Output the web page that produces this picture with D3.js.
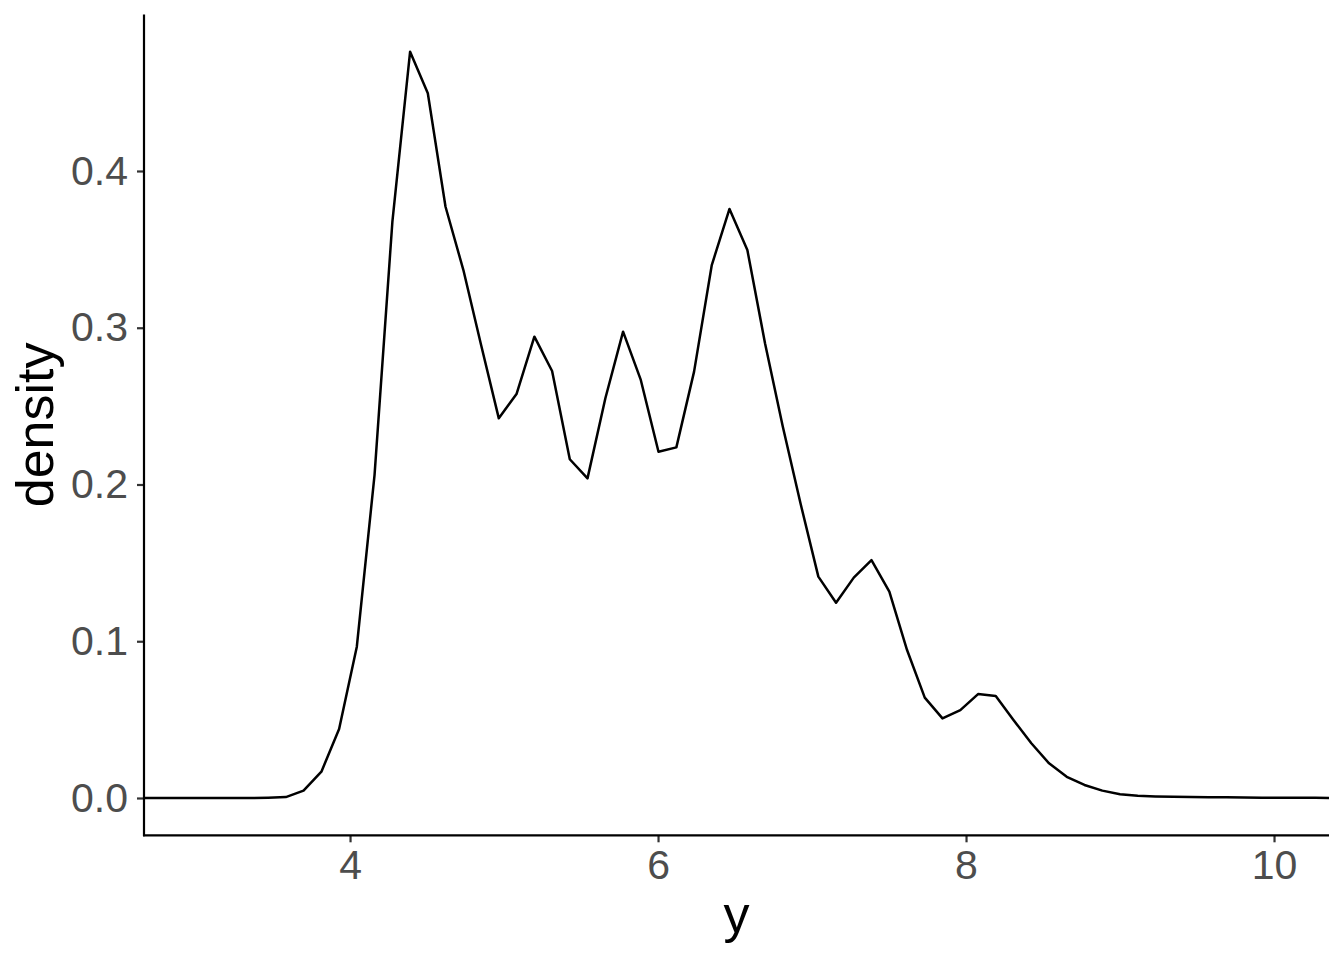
<!DOCTYPE html>
<html>
<head>
<meta charset="utf-8">
<script src="https://cdn.jsdelivr.net/npm/d3@7"></script>
<style>
  body { margin: 0; background: #fff; }
  svg { display: block; font-family: "Liberation Sans", Arial, Helvetica, sans-serif; }
</style>
</head>
<body>
<svg id="chart" width="1344" height="960"></svg>
<script>
// density estimate
const xs = [2.661, 2.776, 2.892, 3.007, 3.122, 3.237, 3.353, 3.468, 3.583, 3.698,
  3.814, 3.929, 4.044, 4.159, 4.275, 4.390, 4.505, 4.620, 4.736, 4.851,
  4.966, 5.081, 5.197, 5.312, 5.427, 5.542, 5.658, 5.773, 5.888, 6.003,
  6.119, 6.234, 6.349, 6.464, 6.580, 6.695, 6.810, 6.925, 7.041, 7.156,
  7.271, 7.386, 7.502, 7.617, 7.732, 7.847, 7.963, 8.078, 8.193, 8.308,
  8.424, 8.539, 8.654, 8.769, 8.885, 9.000, 9.115, 9.230, 9.346, 9.461,
  9.576, 9.691, 9.807, 9.922, 10.037, 10.152, 10.268, 10.383];
const densities = [0, 0, 0, 0, 0, 0, 0, 0.0002, 0.0006, 0.0047,
  0.0168, 0.0440, 0.0965, 0.206, 0.3677, 0.4761, 0.4496, 0.3772, 0.3368, 0.289,
  0.2422, 0.2577, 0.2943, 0.2724, 0.2161, 0.2039, 0.2550, 0.2975, 0.2667, 0.2209,
  0.2237, 0.2720, 0.3400, 0.3758, 0.3496, 0.290, 0.237, 0.188, 0.1412, 0.1246,
  0.1406, 0.1518, 0.1316, 0.0944, 0.0640, 0.0508, 0.0561, 0.0663, 0.0651, 0.0498,
  0.0349, 0.0221, 0.0135, 0.0083, 0.0047, 0.0024, 0.0014, 0.0010, 0.0008, 0.0006,
  0.0005, 0.0004, 0.0003, 0.0002, 0.0002, 0.0001, 0.0001, 0];
const xTicks = [4, 6, 8, 10];
const yTicks = [0, 0.1, 0.2, 0.3, 0.4];

const svg = d3.select('#chart');
const panelLeft = 144;
const panelRight = 1329;
const panelTop = 14.4;
const panelBottom = 835.3;

const x = d3.scaleLinear().domain([2.662, 10.357]).range([panelLeft, panelRight]);
const y = d3.scaleLinear().domain([-0.0238, 0.4999]).range([panelBottom, panelTop]);

svg.append('clipPath').attr('id', 'panel-clip')
  .append('rect')
  .attr('x', panelLeft).attr('y', panelTop)
  .attr('width', panelRight - panelLeft).attr('height', panelBottom - panelTop);

const points = xs.map((v, i) => [v, densities[i]]);
const line = d3.line().x((d) => x(d[0])).y((d) => y(d[1]));

svg.append('path')
  .datum(points)
  .attr('clip-path', 'url(#panel-clip)')
  .attr('fill', 'none')
  .attr('stroke', '#000')
  .attr('stroke-width', 2.5)
  .attr('stroke-linejoin', 'round')
  .attr('d', line);

// axes, theme_classic style
function styleAxis(g) {
  g.select('.domain').remove();
  g.selectAll('.tick line').attr('stroke', '#333333').attr('stroke-width', 2.2);
  g.selectAll('.tick text')
    .attr('fill', '#4D4D4D')
    .attr('font-size', 41)
    .attr('font-family', '"Liberation Sans", Arial, Helvetica, sans-serif');
}

const xAxis = svg.append('g')
  .attr('transform', `translate(0,${panelBottom})`)
  .call(d3.axisBottom(x).tickValues(xTicks).tickSize(7).tickPadding(8)
    .tickFormat(d3.format('d')));
styleAxis(xAxis);

const yAxis = svg.append('g')
  .attr('transform', `translate(${panelLeft},0)`)
  .call(d3.axisLeft(y).tickValues(yTicks).tickSize(7).tickPadding(9)
    .tickFormat(d3.format('.1f')));
styleAxis(yAxis);

svg.append('line')
  .attr('x1', panelLeft - 1).attr('x2', panelRight)
  .attr('y1', panelBottom).attr('y2', panelBottom)
  .attr('stroke', '#000').attr('stroke-width', 2.2);
svg.append('line')
  .attr('x1', panelLeft).attr('x2', panelLeft)
  .attr('y1', panelTop).attr('y2', panelBottom + 1)
  .attr('stroke', '#000').attr('stroke-width', 2.2);

svg.append('text')
  .attr('x', (panelLeft + panelRight) / 2)
  .attr('y', 932)
  .attr('text-anchor', 'middle')
  .attr('font-size', 52)
  .attr('fill', '#000')
  .text('y');

svg.append('text')
  .attr('transform', `translate(53,${(panelTop + panelBottom) / 2}) rotate(-90)`)
  .attr('text-anchor', 'middle')
  .attr('font-size', 52)
  .attr('fill', '#000')
  .text('density');
</script>
</body>
</html>
